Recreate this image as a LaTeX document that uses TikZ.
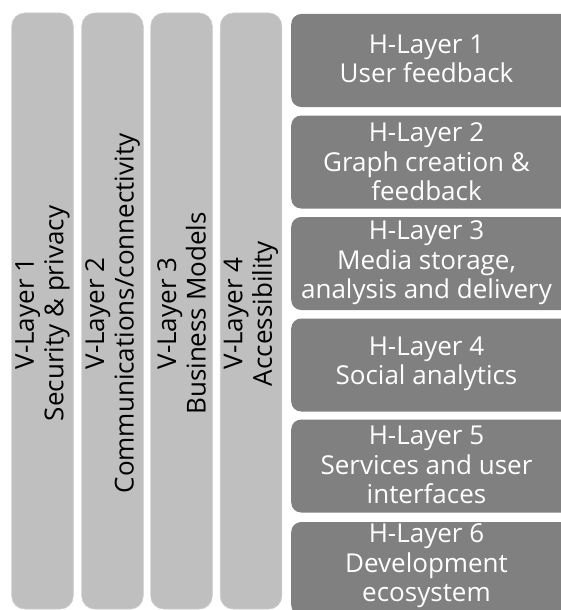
\documentclass[tikz,border=0pt]{standalone}
\usepackage{fontspec}
\setmainfont{Open Sans}
\definecolor{vgray}{HTML}{BFBFBF}
\definecolor{hgray}{HTML}{808080}
\begin{document}
\begin{tikzpicture}[x=1pt,y=-1pt,
  vbar/.style={fill=vgray, draw=vgray!80!white, line width=0.6pt, rounded corners=13pt,
    minimum width=61.5pt, minimum height=596pt, inner sep=0pt},
  vtext/.style={rotate=90, inner sep=0pt, align=center,
    font=\fontsize{26}{29.5}\selectfont, text=black},
  hbar/.style={fill=hgray, rounded corners=10pt, minimum width=300pt, minimum height=93pt,
    anchor=west, inner sep=0pt},
  htext/.style={align=center, inner sep=0pt, text=white, font=\fontsize{26}{29.5}\selectfont}]
\useasboundingbox (0,0) rectangle (561,610);
\clip (0,0) rectangle (561,610);
% vertical layers
\node[vbar] (v1) at (42.5,311) {};
\node[vbar] (v2) at (112.5,311) {};
\node[vbar] (v3) at (181.5,311) {};
\node[vbar] (v4) at (251,311) {};
\node[vtext] (l1) at (42.5,313.5) {V-Layer 1\\Security \& privacy};
\node[vtext] (l2) at (112.5,313.5) {V-Layer 2\\Communications/connectivity};
\node[vtext] (l3) at (181.5,313.5) {V-Layer 3\\Business Models};
\node[vtext] (l4) at (251,313.5) {V-Layer 4\\Accessibility};
% horizontal layers
\node[hbar] (h1) at (291,60.5) {};
\node[hbar] (h2) at (291,162) {};
\node[hbar] (h3) at (291,263.5) {};
\node[hbar] (h4) at (291,365) {};
\node[hbar] (h5) at (291,466) {};
\node[hbar] (h6) at (291,568.5) {};
\node[htext] (t1) at (426.5,59) {H-Layer 1\\User feedback};
\node[htext] (t2) at (426.5,162) {H-Layer 2\\Graph creation \&\\feedback};
\node[htext] (t3) at (426.5,263) {H-Layer 3\\Media storage,\\analysis and delivery};
\node[htext] (t4) at (426.5,364) {H-Layer 4\\Social analytics};
\node[htext] (t5) at (426.5,465) {H-Layer 5\\Services and user\\interfaces};
\node[htext] (t6) at (426.5,566) {H-Layer 6\\Development\\ecosystem};
\end{tikzpicture}
\end{document}
